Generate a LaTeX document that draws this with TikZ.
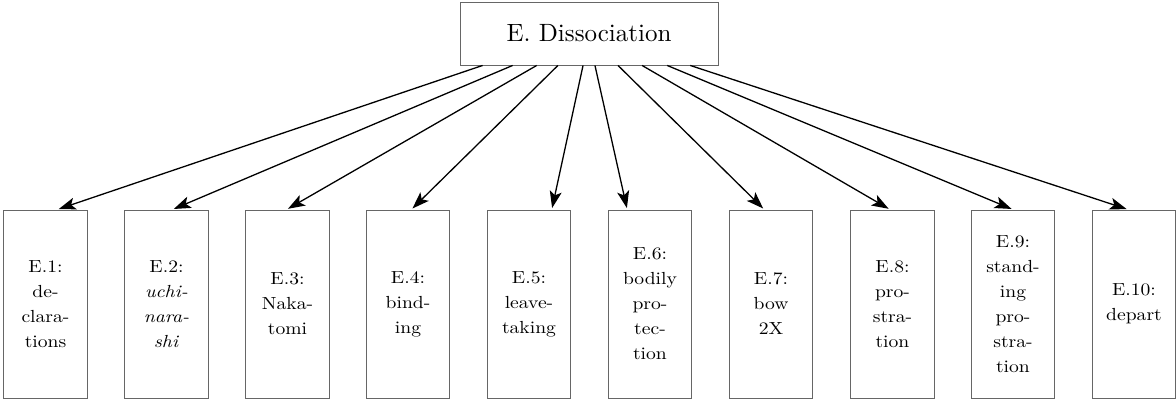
\documentclass[tikz,border=0pt]{standalone}
\usepackage{fontspec}
\setmainfont{lmroman10-regular.otf}[ItalicFont=lmroman10-italic.otf,FakeStretch=1.12]
\newfontfamily\headfont{lmroman10-regular.otf}
\usetikzlibrary{arrows.meta,calc}
\begin{document}
\begin{tikzpicture}[x=1pt,y=-1pt,
  topbox/.style={draw=black!60,line width=0.9pt,minimum width=258pt,minimum height=63pt,inner sep=0pt,
    font=\headfont\fontsize{25}{30}\selectfont},
  leafbox/.style={draw=black!60,line width=0.9pt,minimum width=83.5pt,minimum height=188pt,inner sep=0pt,
    align=center,font=\fontsize{17.5}{25}\selectfont},
  arr/.style={line width=1.3pt,shorten >=1.5pt,-{Stealth[length=17pt,width=12pt,inset=4pt]}}]
\useasboundingbox (0,0) rectangle (1176,401);
\node[topbox] (top) at (589,33.5) {E. Dissociation};
\node[leafbox] (b1) at (45.5,304) {E.1:\\de-\\clara-\\tions};
\node[leafbox] (b2) at (166.5,304) {E.2:\\\textit{uchi-}\\\textit{nara-}\\\textit{shi}};
\node[leafbox] (b3) at (287.5,304) {E.3:\\Naka-\\tomi};
\node[leafbox] (b4) at (408,304) {E.4:\\bind-\\ing};
\node[leafbox] (b5) at (529,304) {E.5:\\leave-\\taking};
\node[leafbox] (b6) at (650,304) {E.6:\\bodily\\pro-\\tec-\\tion};
\node[leafbox] (b7) at (771,304) {E.7:\\bow\\2X};
\node[leafbox] (b8) at (892.5,304) {E.8:\\pro-\\stra-\\tion};
\node[leafbox] (b9) at (1013,304) {E.9:\\stand-\\ing\\pro-\\stra-\\tion};
\node[leafbox] (b10) at (1134,304) {E.10:\\depart};
% connectors: start fraction along the bottom of the top box, end fraction along each leaf's top
\foreach \b/\s/\e in {b1/0.089/0.64, b2/0.205/0.57, b3/0.298/0.49, b4/0.38/0.54, b5/0.477/0.77,
                      b6/0.523/0.23, b7/0.612/0.42, b8/0.705/0.47, b9/0.802/0.50, b10/0.891/0.43}
  \draw[arr] ($(top.south west)!\s!(top.south east)$) -- ($(\b.north west)!\e!(\b.north east)$);
\end{tikzpicture}
\end{document}
